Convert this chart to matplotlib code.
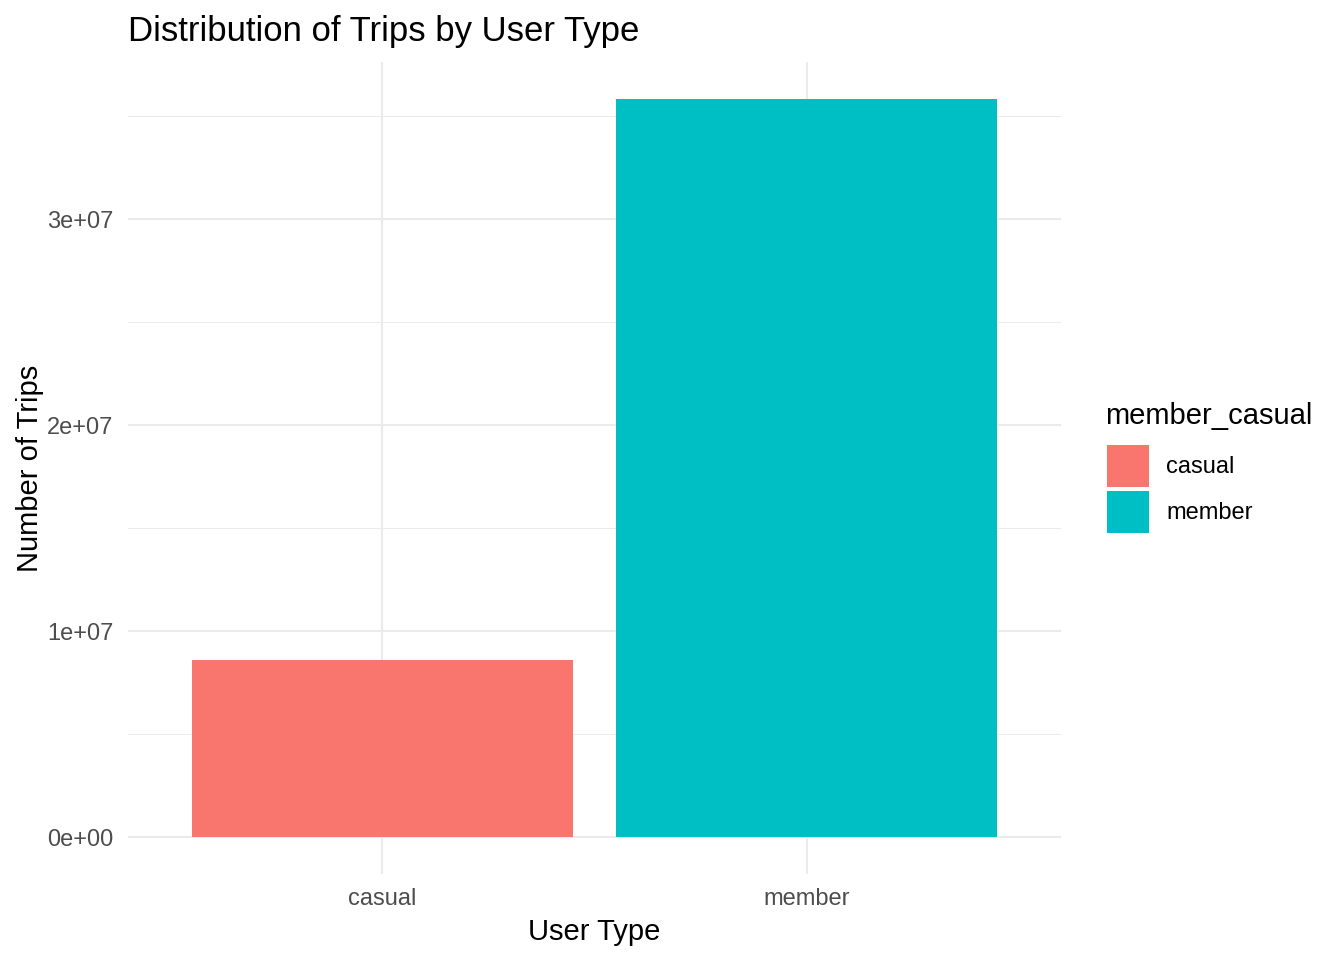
import matplotlib
matplotlib.use("Agg")
import matplotlib.pyplot as plt
from matplotlib.patches import Patch
from matplotlib.ticker import FixedLocator

# trips per user type
user_types = ["casual", "member"]
trip_counts = [8.59e6, 35.83e6]
bar_colours = ["#F8766D", "#00BFC4"]
y_ticks = [0, 1e7, 2e7, 3e7]
y_tick_labels = ["0e+00", "1e+07", "2e+07", "3e+07"]
y_minor = [0.5e7, 1.5e7, 2.5e7, 3.5e7]

plt.rcParams["font.family"] = ["Liberation Sans", "DejaVu Sans"]

W, H = 1344, 960
fig = plt.figure(figsize=(W / 100, H / 100), dpi=100)
ax = fig.add_axes([128 / W, (H - 874) / H, (1061 - 128) / W, (874 - 62) / H])

x = list(range(1, len(user_types) + 1))
ax.bar(x, trip_counts, width=0.9, color=bar_colours, zorder=2)

top = max(trip_counts)
ax.set_xlim(0.4, len(user_types) + 0.6)
ax.set_ylim(-0.05 * top, 1.05 * top)

ax.set_xticks(x)
ax.set_xticklabels(user_types)
ax.set_yticks(y_ticks)
ax.set_yticklabels(y_tick_labels)
ax.yaxis.set_minor_locator(FixedLocator(y_minor))

ax.grid(True, which="major", color="#EBEBEB", linewidth=1.5, zorder=0)
ax.grid(True, which="minor", axis="y", color="#EBEBEB", linewidth=0.75, zorder=0)
ax.set_axisbelow(True)
for s in ax.spines.values():
    s.set_visible(False)
ax.tick_params(which="both", length=0)
ax.tick_params(axis="both", labelsize=17, labelcolor="#4D4D4D")
ax.tick_params(axis="x", pad=10)
ax.tick_params(axis="y", pad=10.5)

ax.set_xlabel("User Type", fontsize=21, labelpad=5.5)
ax.set_ylabel("Number of Trips", fontsize=21, labelpad=2.5)
fig.text(128 / W, 1 - 31 / H, "Distribution of Trips by User Type", fontsize=25,
         ha="left", va="center")

# legend title drawn on its own so the gap to the keys matches ggplot
fig.text(1105 / W, 1 - 416 / H, "member_casual", fontsize=21, ha="left", va="center")
handles = [Patch(facecolor=c, edgecolor="none") for c in bar_colours]
leg = fig.legend(handles, user_types, loc="upper left",
                 bbox_to_anchor=(1107 / W, 1 - 445 / H), frameon=False,
                 fontsize=17, handlelength=1.78, handleheight=2.36,
                 handletextpad=0.72, labelspacing=0.17,
                 borderpad=0, borderaxespad=0)

fig.savefig("out.png", dpi=100, facecolor="white")
